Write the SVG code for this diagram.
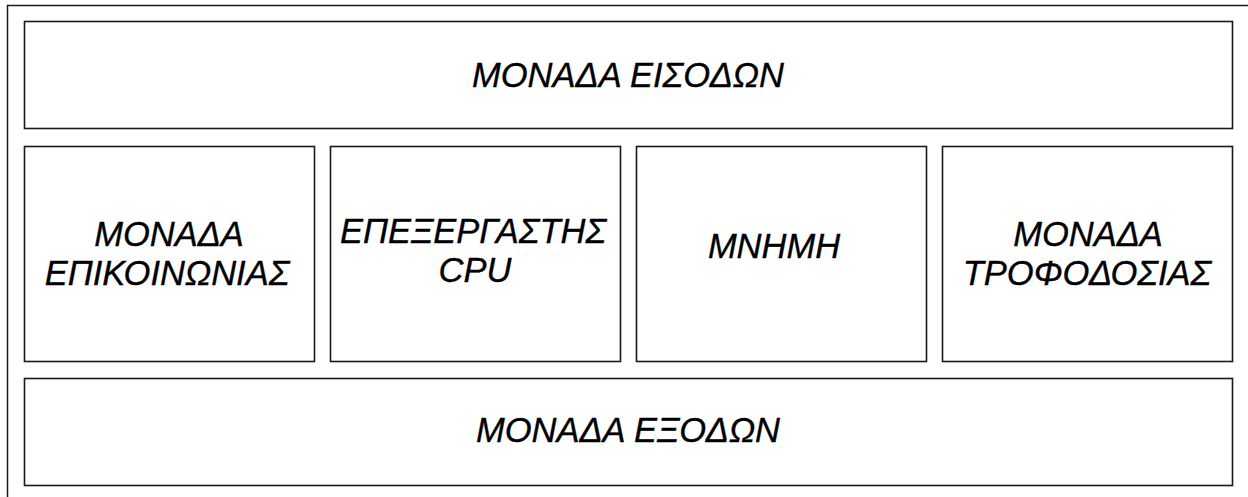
<svg xmlns="http://www.w3.org/2000/svg" width="1248" height="497" viewBox="0 0 1248 497">
  <style>
    .frame { fill: none; stroke: #1a1a1a; stroke-width: 1.5; }
    .box { fill: #fff; stroke: #1a1a1a; stroke-width: 1.6; }
    .label { font-family: "Liberation Sans", Arial, sans-serif; font-style: italic; font-size: 34.5px; fill: #000; stroke: #000; stroke-width: 0.35; text-anchor: middle; }
  </style>
  <rect width="1248" height="497" fill="#fff"/>
  <!-- outer enclosure, runs past the right and bottom edges -->
  <rect class="frame" x="7.5" y="5.5" width="1280" height="540"/>

  <g id="input-unit">
    <rect class="box" x="24.5" y="21.5" width="1208" height="107"/>
    <text class="label" x="628" y="87">ΜΟΝΑΔΑ ΕΙΣΟΔΩΝ</text>
  </g>

  <g id="comm-unit">
    <rect class="box" x="24.5" y="146.5" width="290" height="215"/>
    <text class="label" x="169" y="245.5">ΜΟΝΑΔΑ</text>
    <text class="label" x="167" y="285">ΕΠΙΚΟΙΝΩΝΙΑΣ</text>
  </g>

  <g id="cpu">
    <rect class="box" x="330.5" y="146.5" width="290" height="215"/>
    <text class="label" x="473" y="243">ΕΠΕΞΕΡΓΑΣΤΗΣ</text>
    <text class="label" x="475" y="282">CPU</text>
  </g>

  <g id="memory">
    <rect class="box" x="636.5" y="146.5" width="290" height="215"/>
    <text class="label" x="774" y="258">ΜΝΗΜΗ</text>
  </g>

  <g id="power-unit">
    <rect class="box" x="942.5" y="146.5" width="290" height="215"/>
    <text class="label" x="1088" y="245.5">ΜΟΝΑΔΑ</text>
    <text class="label" x="1087" y="285">ΤΡΟΦΟΔΟΣΙΑΣ</text>
  </g>

  <g id="output-unit">
    <rect class="box" x="24.5" y="378.5" width="1208" height="107"/>
    <text class="label" x="628" y="442">ΜΟΝΑΔΑ ΕΞΟΔΩΝ</text>
  </g>

  <g id="connectors"/>
</svg>
